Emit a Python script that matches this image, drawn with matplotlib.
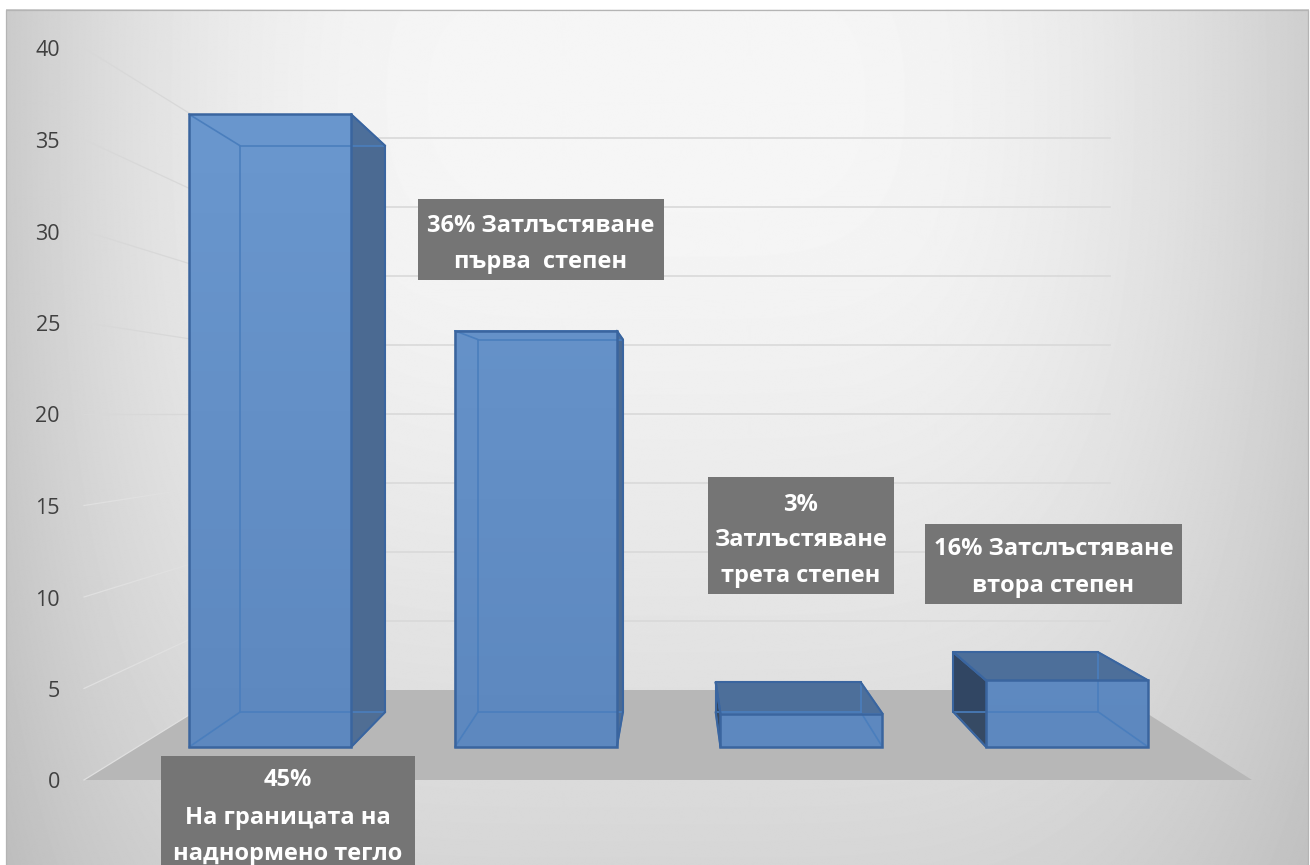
import numpy as np
import matplotlib
matplotlib.use("Agg")
import matplotlib.pyplot as plt
from matplotlib.patches import Polygon, Rectangle

# data
bar_values = [38, 25, 2, 4]
tick_values = [0, 5, 10, 15, 20, 25, 30, 35, 40]
box_lines = [
    ["45%", "На границата на", "наднормено тегло"],
    ["36% Затлъстяване", "първа  степен"],
    ["3%", "Затлъстяване", "трета степен"],
    ["16% Затслъстяване", "втора степен"],
]

W, H = 1310, 865
plt.rcParams["font.family"] = ["Open Sans", "DejaVu Sans"]

fig = plt.figure(figsize=(W / 100, H / 100), dpi=100)
ax = fig.add_axes([0, 0, 1, 1])


# the excel 3d look: front plane of the chart, then shrink towards a vanishing point
def project(cat, val, depth):
    x = 84 + 1168 * cat / 4
    y = 780 - 18.3 * val
    s = 1 / (1 + 0.326 * depth)
    return 675 + s * (x - 675), 414 + s * (y - 414)


# background
xx, yy = np.meshgrid(np.arange(W), np.arange(H))
dx = xx - 680
a = np.where(dx < 0, 50 * (np.abs(dx) / 675) ** 2.6, 43 * (np.abs(dx) / 600) ** 2)
b = 38 * (np.abs(yy - 90) / 750) ** 1.2
bg = (248 - (np.sqrt(a**2 + b**2 + 64) - 8) - 2) / 255
ax.imshow(bg, cmap="gray", vmin=0, vmax=1, extent=(5.5, 1308, 865, 9), aspect="auto", zorder=0)
ax.plot([5.5, 5.5, 1308, 1308], [865, 9.5, 9.5, 865], color="#b4b4b4", lw=0.9, zorder=1)

# floor
floor = [project(0, 0, 0), project(4, 0, 0), project(4, 0, 1), project(0, 0, 1)]
ax.add_patch(Polygon(floor, closed=True, fc="#b7b7b7", ec="none", zorder=2))

# gridlines, back wall and left wall
for v in tick_values:
    p0 = project(0, v, 0)
    p1 = project(0, v, 1)
    p2 = project(4, v, 1)
    if v > 0:
        ax.plot([p1[0], p2[0]], [p1[1], p2[1]], color="#d9d9d9", lw=1.2, zorder=3)
    wall_col = "#e0e0e0" if v <= 15 else "#d8d8d8"
    ax.plot([p0[0], p1[0]], [p0[1], p1[1]], color=wall_col, lw=0.9, zorder=3)
    ax.text(60, p0[1] + 3, str(v), ha="right", va="center", fontsize=15.5, color="#404040", zorder=3)

# bars
cat_gap = 0.195
z_near, z_far = 0.304, 0.70
top_col = np.array([0x6a, 0x97, 0xce]) / 255
bot_col = np.array([0x5d, 0x88, 0xbf]) / 255
edge_col = "#3a659f"
for i, v in enumerate(bar_values):
    c0, c1 = i + cat_gap, i + 1 - cat_gap
    n00 = project(c0, 0, z_near)
    n10 = project(c1, 0, z_near)
    n11 = project(c1, v, z_near)
    n01 = project(c0, v, z_near)
    f00 = project(c0, 0, z_far)
    f10 = project(c1, 0, z_far)
    f11 = project(c1, v, z_far)
    f01 = project(c0, v, z_far)

    # faces that stick out from behind the front rectangle
    ax.add_patch(Polygon([f00, f10, f11, f01], fc="#4d6f9a", ec="none", alpha=0.9, zorder=4))
    ax.add_patch(Polygon([n00, n01, f01, f00], fc="#2f4460", ec="none", alpha=0.95, zorder=5))
    ax.add_patch(Polygon([n10, n11, f11, f10], fc="#4b6a92", ec="none", alpha=0.95, zorder=5))
    ax.add_patch(Polygon([n01, n11, f11, f01], fc="#4d6f9a", ec="none", zorder=5))

    # front rectangle with its soft shading
    t = np.linspace(n01[1], n00[1], 32)[:, None]
    frac = (t - 114) / (747 - 114)
    shade = (top_col + frac * (bot_col - top_col)).reshape(32, 1, 3)
    ax.imshow(shade, extent=(n00[0], n10[0], n00[1], n01[1]), aspect="auto", zorder=6)

    # inner edges
    for p, q in [(n00, f00), (n10, f10), (n01, f01), (n11, f11), (f00, f10), (f01, f11), (f00, f01), (f10, f11)]:
        ax.plot([p[0], q[0]], [p[1], q[1]], color="#4a7ebd", lw=1.2, zorder=7, solid_capstyle="round")

    # outline of whatever sticks out
    ax.add_patch(Polygon([n00, n10, n11, n01], fill=False, ec=edge_col, lw=1.8, zorder=8))
    outline = []
    if f10[0] > n10[0]:
        outline += [(n11, f11), (f11, f10), (f10, n10)]
    if f00[0] < n00[0]:
        outline += [(n01, f01), (f01, f00), (f00, n00)]
    if f01[1] < n01[1]:
        outline += [(n01, f01), (n11, f11), (f01, f11)]
    for p, q in outline:
        ax.plot([p[0], q[0]], [p[1], q[1]], color=edge_col, lw=1.5, zorder=8, solid_capstyle="round")

# grey text boxes
box_rects = [(161, 756, 254, 112), (418, 199, 246, 81), (708, 477, 186, 117), (925, 524, 257, 80)]
line_y = [[780, 818, 854], [226, 262], [505, 540, 576], [549, 586]]
for rect, lines, ys in zip(box_rects, box_lines, line_y):
    ax.add_patch(Rectangle(rect[:2], rect[2], rect[3], fc="#757575", ec="none", zorder=9))
    for line, y in zip(lines, ys):
        ax.text(rect[0] + rect[2] / 2, y, line, ha="center", va="center", fontsize=17,
                fontweight="bold", color="white", zorder=10)

ax.set_xlim(0, W)
ax.set_ylim(H, 0)
ax.axis("off")
fig.savefig("out.png", dpi=100, facecolor="white")
